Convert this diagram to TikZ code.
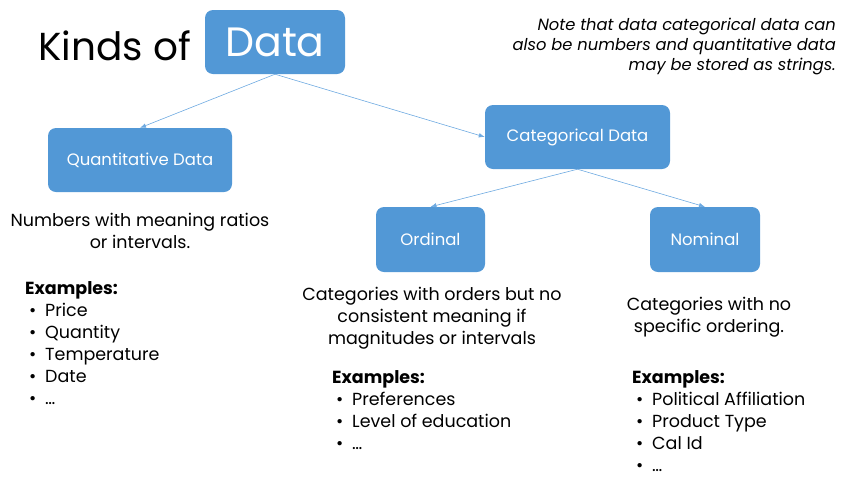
\documentclass[tikz,border=0pt]{standalone}
\usepackage{fontspec}
\setmainfont{Poppins}
\usetikzlibrary{arrows.meta}
\definecolor{boxblue}{RGB}{82,152,214}
\definecolor{linkblue}{RGB}{110,170,225}
\tikzset{blue box/.style={fill=boxblue, rounded corners=8pt, text=white,
         inner sep=0pt, font=\fontsize{16.5}{18}\selectfont},
         link/.style={draw=linkblue, line width=0.6pt,
         -{Latex[length=6pt,width=4.5pt]}},
         body text/.style={inner sep=0pt, font=\fontsize{17.5}{22}\selectfont},
         example list/.style={body text, anchor=base west, align=left}}
\newcommand{\bul}{\hspace*{4pt}\makebox[16pt][l]{\textbullet}}

\begin{document}
\begin{tikzpicture}[x=1pt,y=-1pt]
\useasboundingbox (0,0) rectangle (844,483);

% title and top box
\node[anchor=base west, inner sep=0pt, font=\fontsize{39}{39}\selectfont] (kinds) at (38,60) {Kinds of};
\node[blue box, minimum width=140pt, minimum height=64pt, font=\fontsize{41}{41}\selectfont] (data) at (275,42) {Data};

% the base of a multi-line node is its last line
\node[anchor=base east, inner sep=0pt, align=right, font=\fontsize{16.3}{20}\itshape] (note) at (836,70)
  {Note that data categorical data can\\ also be numbers and quantitative data\\ may be stored as strings.};

% kinds
\node[blue box, minimum width=184pt, minimum height=64pt] (quant) at (140,160) {Quantitative Data};
\node[blue box, minimum width=185pt, minimum height=64pt] (categ) at (577.5,137) {Categorical Data};
\node[blue box, minimum width=109pt, minimum height=65pt] (ordinal) at (430.5,239.5) {Ordinal};
\node[blue box, minimum width=110pt, minimum height=65pt] (nominal) at (705,239.5) {Nominal};

\draw[link] (data.south) -- (quant.north);
\draw[link] (data.south) -- (categ.west);
\draw[link] (categ.south) -- (ordinal.north);
\draw[link] (categ.south) -- (nominal.north);

% descriptions
\node[body text, anchor=base, align=center] (quantdesc) at (140,248)
  {Numbers with meaning ratios\\ or intervals.};
\node[body text, anchor=base, align=center] (orddesc) at (432,344)
  {Categories with orders but no\\ consistent meaning if\\ magnitudes or intervals};
\node[body text, anchor=base, align=center] (nomdesc) at (709,332)
  {Categories with no\\ specific ordering.};

% examples
\node[example list] (quantex) at (25,404)
  {\textbf{Examples:}\\ \bul Price\\ \bul Quantity\\ \bul Temperature\\ \bul Date\\ \bul \dots};
\node[example list] (ordex) at (332,449)
  {\textbf{Examples:}\\ \bul Preferences\\ \bul Level of education\\ \bul \dots};
\node[example list] (nomex) at (632,471)
  {\textbf{Examples:}\\ \bul Political Affiliation\\ \bul Product Type\\ \bul Cal Id\\ \bul \dots};

\end{tikzpicture}
\end{document}
